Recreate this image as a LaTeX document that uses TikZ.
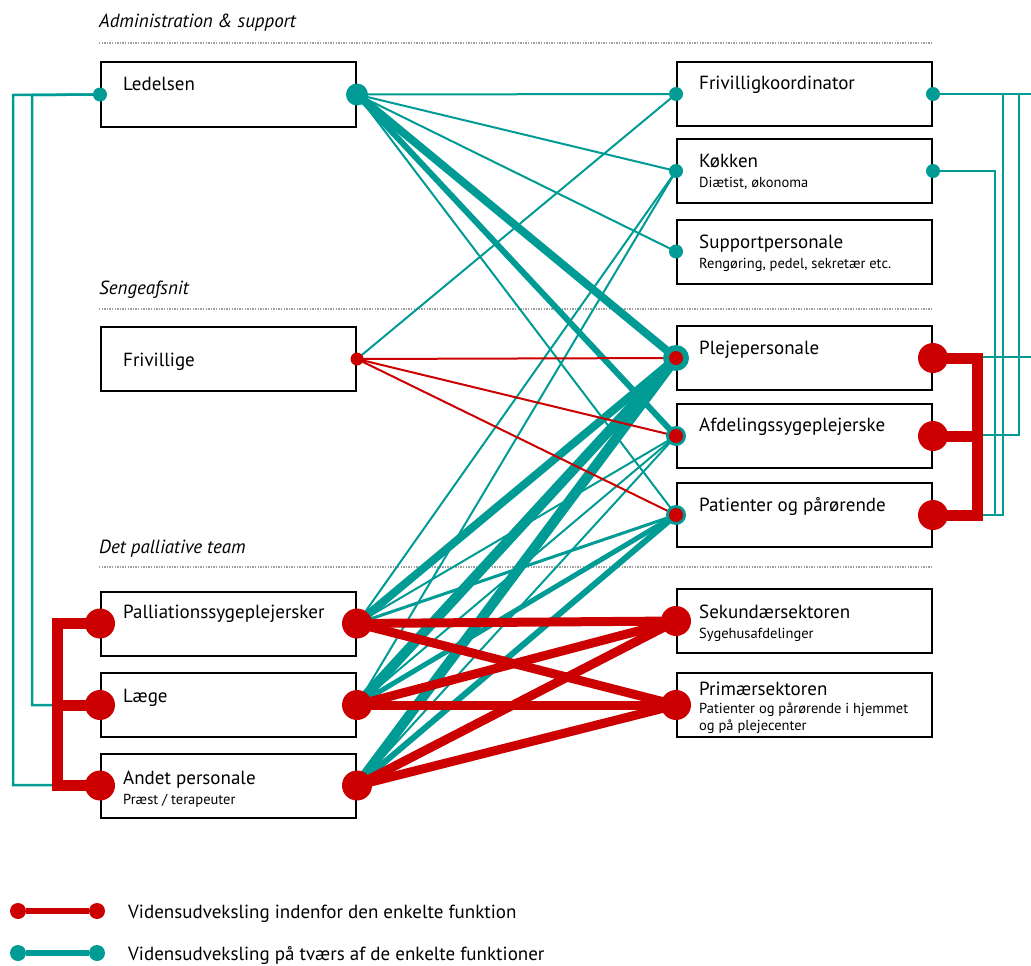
\documentclass[tikz,border=0pt]{standalone}
\usepackage{fontspec}
\setmainfont{PT Sans}
\definecolor{tealc}{RGB}{0,155,149}
\definecolor{redc}{RGB}{204,0,0}
\begin{document}
\begin{tikzpicture}[x=1pt,y=-1pt,
  box/.style={draw=black,line width=2pt,fill=white,minimum width=255pt,minimum height=64pt,inner sep=0pt},
  ttl/.style={anchor=base west,inner sep=0pt,font=\fontsize{19}{22}\selectfont},
  sub/.style={anchor=base west,inner sep=0pt,font=\fontsize{14.5}{17}\selectfont},
  head/.style={anchor=base west,inner sep=0pt,font=\itshape\fontsize{19}{22}\selectfont},
  sepline/.style={draw=gray!75,line width=2pt,dash pattern=on 1.4pt off 1.2pt},
  tl/.style={draw=tealc,line width=#1},
  tl/.default=2pt,
  rl/.style={draw=redc,line width=#1},
  rl/.default=2pt,
  tdot/.style={fill=tealc,draw=none,circle,minimum size=#1,inner sep=0pt},
  rdot/.style={fill=redc,draw=none,circle,minimum size=#1,inner sep=0pt},
  leg/.style={anchor=base west,inner sep=0pt,font=\fontsize{19}{22}\selectfont}
]
\useasboundingbox (0,0) rectangle (1031,966);
\begin{scope}
\clip (0,0) rectangle (1031,966);

% section headings
\node[head] (h1) at (99,28) {Administration \& support};
\node[head] (h2) at (99,294) {Sengeafsnit};
\node[head] (h3) at (99,553) {Det palliative team};
\draw[sepline] (99,43) -- (932,43);
\draw[sepline] (99,309) -- (932,309);
\draw[sepline] (99,567) -- (932,567);

% boxes
\node[box] (led) at (228.5,94.5) {};
\node[box] (friv) at (228.5,359) {};
\node[box] (pal) at (228.5,623.5) {};
\node[box] (lae) at (228.5,705) {};
\node[box] (and) at (228.5,785.5) {};
\node[box] (fk) at (804.5,94) {};
\node[box] (kok) at (804.5,171) {};
\node[box] (sup) at (804.5,251.5) {};
\node[box] (plj) at (804.5,358) {};
\node[box] (afd) at (804.5,436) {};
\node[box] (pat) at (804.5,515) {};
\node[box] (sek) at (804.5,621) {};
\node[box] (pri) at (804.5,705) {};

% labels
\node[ttl] at (123,91) {Ledelsen};
\node[ttl] at (123,366) {Frivillige};
\node[ttl] at (123,618) {Palliationssygeplejersker};
\node[ttl] at (123,702) {Læge};
\node[ttl] at (123,784) {Andet personale};
\node[sub] at (123,804) {Præst / terapeuter};
\node[ttl] at (699,89) {Frivilligkoordinator};
\node[ttl] at (699,167) {Køkken};
\node[sub] at (699,187) {Diætist, økonoma};
\node[ttl] at (699,248) {Supportpersonale};
\node[sub] at (699,268) {Rengøring, pedel, sekretær etc.};
\node[ttl] at (699,354) {Plejepersonale};
\node[ttl] at (699,431) {Afdelingssygeplejerske};
\node[ttl] at (699,511) {Patienter og pårørende};
\node[ttl] at (699,618) {Sekundærsektoren};
\node[sub] at (699,638) {Sygehusafdelinger};
\node[ttl] at (699,695) {Primærsektoren};
\node[sub] at (699,713) {Patienter og pårørende i hjemmet};
\node[sub] at (699,730) {og på plejecenter};

% teal connectors across functions
\draw[tl] (led.east) -- (fk.west);
\draw[tl] (led.east) -- (kok.west);
\draw[tl] (led.east) -- (sup.west);
\draw[tl=8pt] (led.east) -- (plj.west);
\draw[tl=6pt] (led.east) -- (afd.west);
\draw[tl] (led.east) -- (pat.west);
\draw[tl] (friv.east) -- (fk.west);
\draw[tl] (kok.west) -- (pal.east);
\draw[tl] (kok.west) -- (lae.east);
\draw[tl=8pt] (pal.east) -- (plj.west);
\draw[tl] (pal.east) -- (afd.west);
\draw[tl=3pt] (pal.east) -- (pat.west);
\draw[tl=10pt] (lae.east) -- (plj.west);
\draw[tl] (lae.east) -- (afd.west);
\draw[tl=5pt] (lae.east) -- (pat.west);
\draw[tl=10pt] (and.east) -- (plj.west);
\draw[tl] (and.east) -- (afd.west);
\draw[tl=6pt] (and.east) -- (pat.west);

% teal outer routes
\coordinate (lc1) at (13,95);
\coordinate (lc2) at (32,95);
\draw[tl=2.5pt] (led.west) -- (lc1) |- (57,785);
\draw[tl=2.5pt] (led.west) -- (lc2) |- (57,705);
\coordinate (rc0) at (1045,94);
\coordinate (rc1) at (1019,94);
\coordinate (rc2) at (1003,94);
\coordinate (rc3) at (995,171);
\draw[tl=2.5pt] (fk.east) -- (rc0) |- (978,357);
\draw[tl=2.5pt] (fk.east) -- (rc1) |- (978,435);
\draw[tl=2.5pt] (fk.east) -- (rc2) |- (978,515);
\draw[tl=2.5pt] (kok.east) -- (rc3) |- (978,515);

% red connectors
\draw[rl] (friv.east) -- (plj.west);
\draw[rl] (friv.east) -- (afd.west);
\draw[rl] (friv.east) -- (pat.west);
\foreach \a in {pal,lae,and}{
  \foreach \b in {sek,pri}{
    \draw[rl=9pt] (\a.east) -- (\b.west);
  }
}

% red brackets
\draw[rl=11pt,line join=miter] (pal.west) -- ++(-43,0) |- (and.west);
\draw[rl=11pt] (lae.west) -- ++(-43,0);
\draw[rl=11pt,line join=miter] (plj.east) -- ++(44,0) |- (pat.east);
\draw[rl=11pt] (afd.east) -- ++(44,0);

% dots
\foreach \n in {led.west,fk.west,fk.east,kok.west,kok.east,sup.west}
  \node[tdot=14pt] at (\n) {};
\node[tdot=22pt] at (led.east) {};
\node[rdot=13pt] at (friv.east) {};
\node[tdot=26pt] at (plj.west) {};
\node[tdot=20pt] at (afd.west) {};
\node[tdot=20pt] at (pat.west) {};
\foreach \n in {plj.west,afd.west,pat.west}
  \node[rdot=14pt] at (\n) {};
\foreach \n in {pal.west,pal.east,lae.west,lae.east,and.west,and.east,sek.west,pri.west,plj.east,afd.east,pat.east}
  \node[rdot=30pt] at (\n) {};

% legend
\node[rdot=16pt] (lr1) at (18,911) {};
\node[rdot=16pt] (lr2) at (97,911) {};
\draw[rl=6pt] (lr1) -- (lr2);
\node[tdot=16pt] (lt1) at (18,953) {};
\node[tdot=16pt] (lt2) at (97,953) {};
\draw[tl=6pt] (lt1) -- (lt2);
\node[leg] at (128,918) {Vidensudveksling indenfor den enkelte funktion};
\node[leg] at (128,960) {Vidensudveksling på tværs af de enkelte funktioner};
\end{scope}
\end{tikzpicture}
\end{document}
